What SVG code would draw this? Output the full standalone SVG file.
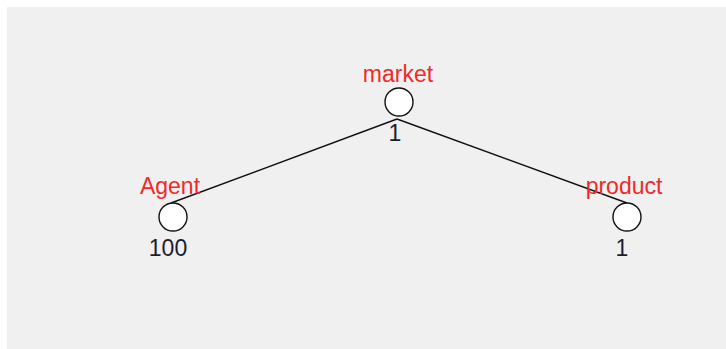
<svg xmlns="http://www.w3.org/2000/svg" width="726" height="349" viewBox="0 0 726 349">
<style>
.bg{fill:#f0f0f0}
.edge{stroke:#111;stroke-width:1.4;fill:none}
.node{fill:#fff;stroke:#111;stroke-width:1.4}
.lbl{font-family:"Liberation Sans",Arial,sans-serif;font-size:23px;fill:#ee2a2a;text-anchor:middle}
.num{font-family:"Liberation Sans",Arial,sans-serif;font-size:23px;fill:#1c1c30;text-anchor:middle}
</style>
<rect x="0" y="0" width="726" height="349" fill="#fff"/>
<rect class="bg" x="7" y="7" width="719" height="342"/>
<g id="connectors">
<line class="edge" x1="397" y1="119" x2="171" y2="203"/>
<line class="edge" x1="397" y1="119" x2="627" y2="203"/>
</g>
<g id="node-market">
<circle class="node" cx="399" cy="102" r="14"/>
<text class="lbl" x="398" y="82">market</text>
<text class="num" x="395" y="141">1</text>
</g>
<g id="node-agent">
<circle class="node" cx="173" cy="217" r="14"/>
<text class="lbl" x="170" y="194">Agent</text>
<text class="num" x="168" y="256">100</text>
</g>
<g id="node-product">
<circle class="node" cx="627" cy="217" r="14"/>
<text class="lbl" x="624" y="194">product</text>
<text class="num" x="622" y="256">1</text>
</g>
</svg>
